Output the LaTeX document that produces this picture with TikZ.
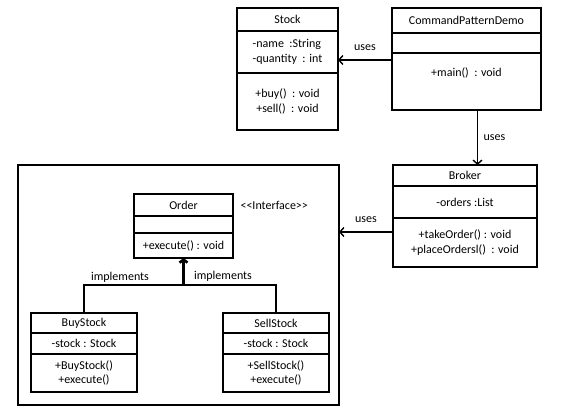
\documentclass[tikz,border=0pt]{standalone}
\usepackage{fontspec}
\setmainfont{Carlito}
\usetikzlibrary{positioning,arrows.meta}

\begin{document}
\begin{tikzpicture}[x=1pt, y=-1pt,
  part/.style={draw, line width=1.4pt, outer sep=0pt, inner sep=0pt, align=center, font=\fontsize{12}{14.5}\selectfont},
  lbl/.style={font=\fontsize{12}{14.5}\selectfont},
  uses/.style={line width=1.4pt, -{Straight Barb[length=4pt,width=9pt]}},
  realize/.style={line width=1.4pt},
  realizetip/.style={line width=2.6pt, -{Straight Barb[length=3pt,width=8pt]}}]
  \useasboundingbox (0,0) rectangle (582,412);
  % frame round the commands
  \node[draw, line width=1.4pt, outer sep=0pt, minimum width=321, minimum height=240, anchor=north west] (orderPkg) at (18,165) {};
  % Stock
  \node[part, minimum width=101, minimum height=23, anchor=north west] (stockT) at (237,8) {Stock};
  \node[part, minimum width=101, minimum height=42, below=0pt of stockT, align=left] (stockA) {-name~ :String\\-quantity~ : int};
  \node[part, minimum width=101, minimum height=57, below=0pt of stockA] (stockM) {+buy()~ : void\\+sell()~ : void};
  % CommandPatternDemo
  \node[part, minimum width=149, minimum height=25, anchor=north west] (cpdT) at (392,8) {CommandPatternDemo};
  \node[part, minimum width=149, minimum height=20, below=0pt of cpdT] (cpdE) {};
  \node[part, minimum width=149, minimum height=57, text depth=18pt, below=0pt of cpdE] (cpdM) {+main()~ : void};
  % Broker
  \node[part, minimum width=144, minimum height=21, anchor=north west] (brokerT) at (393,165) {Broker};
  \node[part, minimum width=144, minimum height=32, below=0pt of brokerT] (brokerA) {-orders :List};
  \node[part, minimum width=144, minimum height=49, below=0pt of brokerA] (brokerM) {+takeOrder() : void\\+placeOrdersl()~ : void};
  % Order
  \node[part, minimum width=99, minimum height=22, anchor=north west] (orderT) at (134,194) {Order};
  \node[part, minimum width=99, minimum height=17, below=0pt of orderT] (orderE) {};
  \node[part, minimum width=99, minimum height=25, below=0pt of orderE] (orderM) {+execute() : void};
  \node[lbl, right=4pt of orderT] (iface) {<{}<Interface>{}>};
  % BuyStock
  \node[part, minimum width=106, minimum height=20, anchor=north west] (buyT) at (31,313) {BuyStock};
  \node[part, minimum width=106, minimum height=21, below=0pt of buyT] (buyA) {-stock : Stock};
  \node[part, minimum width=106, minimum height=38, below=0pt of buyA] (buyM) {+BuyStock()\\+execute()};
  % SellStock
  \node[part, minimum width=106, minimum height=20, anchor=north west] (sellT) at (223,313) {SellStock};
  \node[part, minimum width=106, minimum height=21, below=0pt of sellT] (sellA) {-stock : Stock};
  \node[part, minimum width=106, minimum height=38, below=0pt of sellA] (sellM) {+SellStock()\\+execute()};
  % uses
  \draw[uses] ([yshift=-7pt]cpdM.north west) -- ([yshift=-7pt]cpdM.north west -| stockA.east) node[lbl, midway, above=5pt] (usesA) {uses};
  \draw[uses] ([xshift=11pt]cpdM.south) -- ([xshift=11pt]cpdM.south |- brokerT.north) node[lbl, midway, right=2pt] (usesB) {uses};
  \draw[uses] ([yshift=-14pt]brokerM.north west) -- ([yshift=-14pt]brokerM.north west -| orderPkg.east) node[lbl, midway, above=5pt] (usesC) {uses};
  % implements
  \coordinate (fork) at ([yshift=-27pt]orderM.south);
  \draw[realize] (buyT.north) |- (fork) -| (sellT.north);
  \draw[realizetip] (fork) -- (orderM.south);
  \node[lbl] (implA) at (120,277) {implements};
  \node[lbl] (implB) at (223,276) {implements};
\end{tikzpicture}
\end{document}
